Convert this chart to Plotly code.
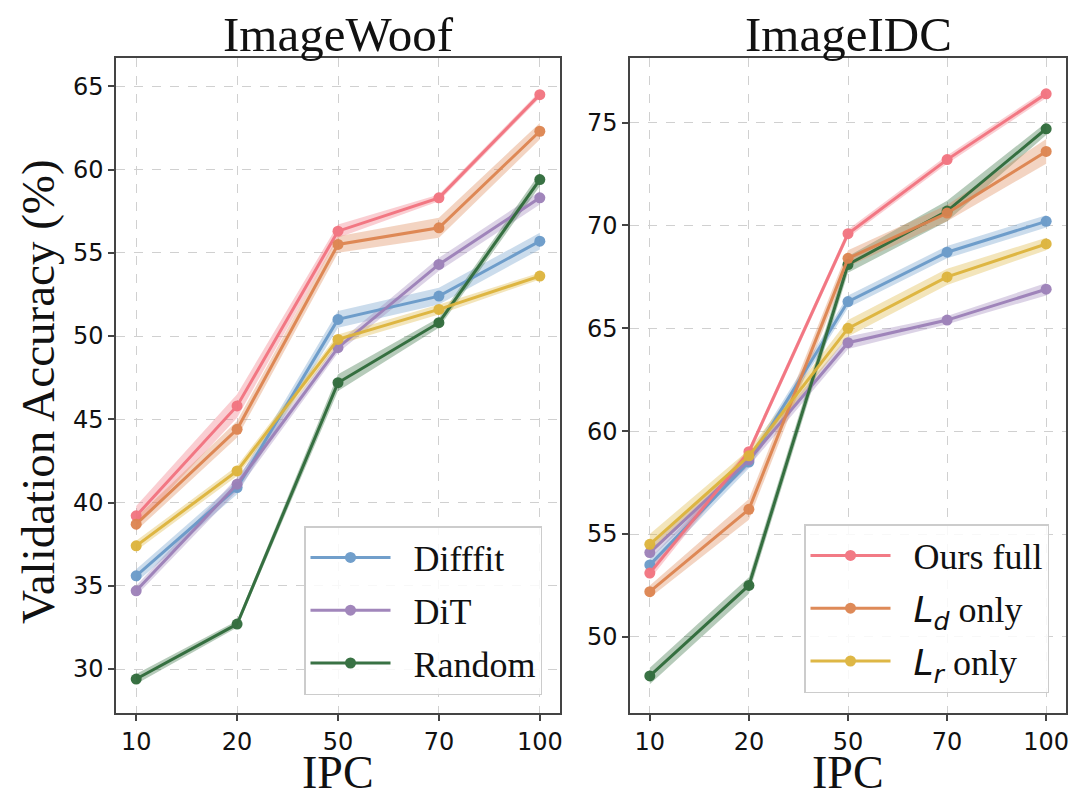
import plotly.graph_objects as go

ipc = ["10", "20", "50", "70", "100"]

# ImageWoof
woof_ours = [39.2, 45.8, 56.3, 58.3, 64.5]
woof_ld = [38.7, 44.4, 55.5, 56.5, 62.3]
woof_lr = [37.4, 41.9, 49.8, 51.6, 53.6]
woof_difffit = [35.6, 40.9, 51.0, 52.4, 55.7]
woof_dit = [34.7, 41.1, 49.3, 54.3, 58.3]
woof_random = [29.4, 32.7, 47.2, 50.8, 59.4]

woof_ours_sd = [0.6, 0.7, 0.4, 0.2, 0.2]
woof_ld_sd = [0.4, 0.5, 0.5, 0.6, 0.5]
woof_lr_sd = [0.3, 0.3, 0.3, 0.3, 0.2]
woof_difffit_sd = [0.4, 0.4, 0.5, 0.5, 0.5]
woof_dit_sd = [0.3, 0.4, 0.3, 0.4, 0.4]
woof_random_sd = [0.3, 0.2, 0.5, 0.3, 0.4]

# ImageIDC
idc_ours = [53.1, 59.0, 69.6, 73.2, 76.4]
idc_ld = [52.2, 56.2, 68.4, 70.6, 73.6]
idc_lr = [54.5, 58.8, 65.0, 67.5, 69.1]
idc_difffit = [53.5, 58.5, 66.3, 68.7, 70.2]
idc_dit = [54.1, 58.6, 64.3, 65.4, 66.9]
idc_random = [48.1, 52.5, 68.1, 70.7, 74.7]

idc_ours_sd = [0.3, 0.2, 0.2, 0.2, 0.2]
idc_ld_sd = [0.3, 0.5, 0.4, 0.4, 0.6]
idc_lr_sd = [0.5, 0.3, 0.4, 0.4, 0.3]
idc_difffit_sd = [0.3, 0.3, 0.3, 0.3, 0.3]
idc_dit_sd = [0.3, 0.3, 0.3, 0.2, 0.3]
idc_random_sd = [0.4, 0.4, 0.4, 0.5, 0.3]

colors = {
    "ours": "#F2737F",
    "ld": "#DD8450",
    "lr": "#DDB43C",
    "difffit": "#6A9AC9",
    "dit": "#9C80B8",
    "random": "#2F6B3A",
}

def rgba(hexc, a):
    h = hexc.lstrip("#")
    r, g, b = int(h[0:2], 16), int(h[2:4], 16), int(h[4:6], 16)
    return f"rgba({r},{g},{b},{a})"

mfont = "font-family:'DejaVu Sans'"
pad = "\u00a0\u00a0"
names = {
    "ours": pad + "Ours full",
    "ld": pad + f"<span style=\"{mfont}\"><i>L</i><sub><i>d</i></sub></span> only",
    "lr": pad + f"<span style=\"{mfont}\"><i>L</i><sub><i>r</i></sub></span> only",
    "difffit": pad + "Difffit",
    "dit": pad + "DiT",
    "random": pad + "Random",
}

woof = {
    "ours": (woof_ours, woof_ours_sd),
    "ld": (woof_ld, woof_ld_sd),
    "lr": (woof_lr, woof_lr_sd),
    "difffit": (woof_difffit, woof_difffit_sd),
    "dit": (woof_dit, woof_dit_sd),
    "random": (woof_random, woof_random_sd),
}
idc = {
    "ours": (idc_ours, idc_ours_sd),
    "ld": (idc_ld, idc_ld_sd),
    "lr": (idc_lr, idc_lr_sd),
    "difffit": (idc_difffit, idc_difffit_sd),
    "dit": (idc_dit, idc_dit_sd),
    "random": (idc_random, idc_random_sd),
}

fig = go.Figure()

order = ["difffit", "dit", "random", "ours", "ld", "lr"]

def add_panel(data, xa, ya, legend_keys, legend_name):
    for key in order:
        vals, sd = data[key]
        c = colors[key]
        upper = [v + s for v, s in zip(vals, sd)]
        lower = [v - s for v, s in zip(vals, sd)]
        fig.add_trace(go.Scatter(
            x=ipc + ipc[::-1], y=upper + lower[::-1],
            fill="toself", fillcolor=rgba(c, 0.35),
            line=dict(width=0), mode="lines", hoverinfo="skip",
            showlegend=False, xaxis=xa, yaxis=ya,
        ))
    for key in order:
        vals, sd = data[key]
        c = colors[key]
        fig.add_trace(go.Scatter(
            x=ipc, y=vals, mode="lines+markers", name=names[key],
            line=dict(color=c, width=3), marker=dict(color=c, size=11),
            opacity=0.95, legendgroup=key,
            showlegend=key in legend_keys, legend=legend_name,
            xaxis=xa, yaxis=ya,
        ))

add_panel(woof, "x", "y", ["difffit", "dit", "random"], "legend")
add_panel(idc, "x2", "y2", ["ours", "ld", "lr"], "legend2")

axis_common = dict(
    showline=True, linecolor="#444444", linewidth=1.5, mirror=True,
    ticks="outside", ticklen=6, tickwidth=1.5, tickcolor="#444444",
    showgrid=True, gridcolor="#D0D0D0", griddash="dash", gridwidth=1,
    tickfont=dict(family="DejaVu Sans", size=24, color="#111111"),
    zeroline=False, automargin=False,
)

# page body has an 8px margin; work in screen-pixel coordinates and shift
OFF = 8
RIGHT = 1066   # right edge of the right panel (kept inside the visible viewport)
W, H = 1070 - OFF, 790 - OFF
ML = 116 - OFF
MT = 58 - OFF
MB = H - (713 - OFF)
MR = W - (RIGHT - OFF)
PW = W - ML - MR
PH = H - MT - MB

def px(xr):
    return (xr - OFF - ML) / PW

def py(yr):
    return (H - MB - (yr - OFF)) / PH

RL = 630  # left edge of the right panel
RC = (RL + RIGHT) / 2

serif = dict(family="Liberation Serif", size=46, color="#111111")
legfont = dict(family="Liberation Serif", size=36, color="#111111")

fig.update_layout(
    width=W, height=H,
    margin=dict(l=ML, r=MR, t=MT, b=MB),
    paper_bgcolor="white", plot_bgcolor="white",
    xaxis=dict(domain=[0, px(560)], type="category", range=[-0.2, 4.2], **axis_common),
    yaxis=dict(domain=[0, 1], range=[27.36, 66.7], tickvals=[30, 35, 40, 45, 50, 55, 60, 65],
               **axis_common),
    xaxis2=dict(domain=[px(RL), 1], type="category", range=[-0.2, 4.2], anchor="y2",
                **axis_common),
    yaxis2=dict(domain=[0, 1], range=[46.3, 78.14], tickvals=[50, 55, 60, 65, 70, 75], anchor="x2",
                **axis_common),
    legend=dict(x=px(542), y=py(695), xanchor="right", yanchor="bottom",
                bgcolor="rgba(255,255,255,0.85)", bordercolor="#CCCCCC", borderwidth=1.5,
                font=legfont, itemwidth=80, tracegroupgap=3),
    legend2=dict(x=px(RIGHT - 17), y=py(693), xanchor="right", yanchor="bottom",
                 bgcolor="rgba(255,255,255,0.85)", bordercolor="#CCCCCC", borderwidth=1.5,
                 font=legfont, itemwidth=80, tracegroupgap=3),
    annotations=[
        dict(text="ImageWoof", x=px(338), y=py(35), xref="paper", yref="paper",
             showarrow=False, font=dict(family="Liberation Serif", size=49, color="#111111"),
             xanchor="center", yanchor="middle"),
        dict(text="ImageIDC", x=px(RC), y=py(35), xref="paper", yref="paper",
             showarrow=False, font=dict(family="Liberation Serif", size=49, color="#111111"),
             xanchor="center", yanchor="middle"),
        dict(text="IPC", x=px(338), y=py(772), xref="paper", yref="paper",
             showarrow=False, font=serif, xanchor="center", yanchor="middle"),
        dict(text="IPC", x=px(RC), y=py(772), xref="paper", yref="paper",
             showarrow=False, font=serif, xanchor="center", yanchor="middle"),
        dict(text="Validation Accuracy (%)", x=px(38), y=py(392), xref="paper", yref="paper",
             showarrow=False, textangle=-90, font=dict(family="Liberation Serif", size=47, color="#111111"),
             xanchor="center", yanchor="middle"),
    ],
)

fig.write_html("out.html")
